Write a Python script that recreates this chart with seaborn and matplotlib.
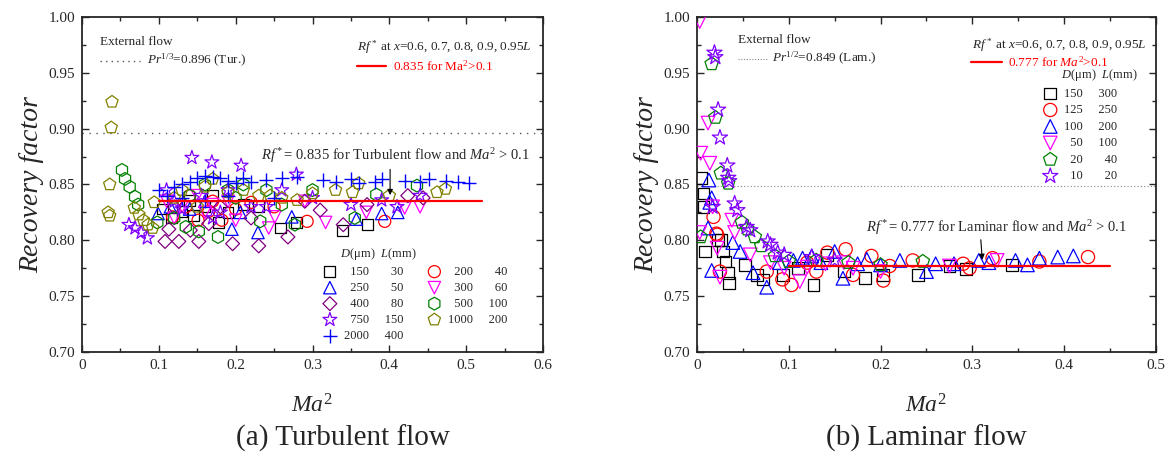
import numpy as np
import pandas as pd
import matplotlib
matplotlib.use("Agg")
import matplotlib.pyplot as plt
import seaborn as sns

sns.set_style("ticks")
plt.rcParams['font.family'] = ['Liberation Serif', 'DejaVu Serif']
plt.rcParams['mathtext.fontset'] = 'custom'
plt.rcParams['mathtext.rm'] = 'Liberation Serif'
plt.rcParams['mathtext.it'] = 'Liberation Serif:italic'

# ---------------- turbulent flow data (Ma^2, Rf) ----------------
t_sq_x = [0.105, 0.116, 0.13, 0.145, 0.16, 0.178, 0.19, 0.21, 0.258, 0.279, 0.339, 0.372,
          0.14, 0.17, 0.23]
t_sq_y = [0.828, 0.820, 0.826, 0.822, 0.830, 0.816, 0.825, 0.832, 0.811, 0.816, 0.809, 0.814,
          0.836, 0.840, 0.830]
t_ci_x = [0.118, 0.135, 0.151, 0.165, 0.182, 0.2, 0.22, 0.293, 0.394, 0.14, 0.17, 0.25]
t_ci_y = [0.821, 0.830, 0.818, 0.826, 0.818, 0.828, 0.834, 0.817, 0.817, 0.840, 0.835, 0.830]
t_tu_x = [0.099, 0.115, 0.14, 0.16, 0.195, 0.206, 0.229, 0.273, 0.357, 0.39, 0.411]
t_tu_y = [0.824, 0.830, 0.828, 0.835, 0.810, 0.825, 0.807, 0.821, 0.819, 0.824, 0.825]
t_td_x = [0.11, 0.13, 0.15, 0.17, 0.2, 0.243, 0.251, 0.317, 0.37, 0.42, 0.12, 0.16, 0.19,
          0.29, 0.44]
t_td_y = [0.835, 0.830, 0.840, 0.832, 0.818, 0.811, 0.821, 0.816, 0.825, 0.829, 0.820, 0.825,
          0.835, 0.835, 0.830]
t_di_x = [0.108, 0.113, 0.126, 0.141, 0.152, 0.165, 0.196, 0.23, 0.268, 0.31, 0.34, 0.371,
          0.424, 0.444, 0.12, 0.18, 0.22, 0.29]
t_di_y = [0.799, 0.810, 0.799, 0.809, 0.799, 0.815, 0.797, 0.795, 0.803, 0.827, 0.814, 0.832,
          0.840, 0.838, 0.830, 0.830, 0.820, 0.835]
t_hx_x = [0.052, 0.056, 0.062, 0.069, 0.073, 0.098, 0.12, 0.135, 0.152, 0.177, 0.19, 0.21,
          0.232, 0.277, 0.30, 0.355, 0.383, 0.436, 0.14, 0.16, 0.20, 0.24, 0.26]
t_hx_y = [0.863, 0.855, 0.848, 0.839, 0.832, 0.816, 0.820, 0.812, 0.808, 0.803, 0.845, 0.850,
          0.817, 0.814, 0.845, 0.820, 0.841, 0.849, 0.840, 0.850, 0.838, 0.845, 0.832]
t_st_x = [0.061, 0.069, 0.077, 0.085, 0.12, 0.143, 0.155, 0.169, 0.18, 0.207, 0.22, 0.279,
          0.30, 0.35, 0.39, 0.41, 0.44, 0.11, 0.13, 0.17, 0.19, 0.24, 0.26]
t_st_y = [0.814, 0.811, 0.807, 0.802, 0.835, 0.874, 0.840, 0.870, 0.825, 0.867, 0.830, 0.859,
          0.838, 0.832, 0.836, 0.830, 0.840, 0.845, 0.828, 0.820, 0.845, 0.830, 0.845]
t_pe_x = [0.039, 0.038, 0.036, 0.034, 0.036, 0.068, 0.074, 0.08, 0.086, 0.092, 0.094, 0.13,
          0.16, 0.19, 0.23, 0.26, 0.30, 0.352, 0.36, 0.462, 0.473, 0.12, 0.15, 0.17, 0.21,
          0.245, 0.28, 0.33, 0.40]
t_pe_y = [0.924, 0.901, 0.850, 0.825, 0.822, 0.829, 0.823, 0.818, 0.814, 0.811, 0.834, 0.845,
          0.848, 0.843, 0.840, 0.838, 0.842, 0.843, 0.851, 0.843, 0.846, 0.838, 0.830, 0.855,
          0.845, 0.840, 0.836, 0.845, 0.840]
t_pl_x = [0.10, 0.11, 0.12, 0.13, 0.14, 0.15, 0.16, 0.17, 0.18, 0.19, 0.20, 0.21, 0.22, 0.24,
          0.26, 0.28, 0.314, 0.33, 0.35, 0.36, 0.381, 0.39, 0.42, 0.44, 0.452, 0.474, 0.49,
          0.504, 0.13, 0.16, 0.19, 0.25]
t_pl_y = [0.845, 0.840, 0.848, 0.850, 0.852, 0.856, 0.858, 0.857, 0.856, 0.853, 0.851, 0.856,
          0.852, 0.854, 0.856, 0.857, 0.854, 0.852, 0.855, 0.851, 0.852, 0.855, 0.853, 0.852,
          0.855, 0.853, 0.852, 0.851, 0.838, 0.835, 0.840, 0.838]

t_D = ["150", "200", "250", "300", "400", "500", "750", "1000", "2000"]
t_L = ["30", "40", "50", "60", "80", "100", "150", "200", "400"]

# ---------------- laminar flow data ----------------
l_sq_x = [0.004, 0.007, 0.007, 0.009, 0.023, 0.026, 0.028, 0.031, 0.034, 0.035, 0.052, 0.065,
          0.072, 0.094, 0.127, 0.142, 0.183, 0.203, 0.241, 0.275, 0.293, 0.343, 0.11, 0.16]
l_sq_y = [0.856, 0.842, 0.830, 0.790, 0.800, 0.800, 0.790, 0.781, 0.771, 0.762, 0.778, 0.769,
          0.765, 0.769, 0.760, 0.787, 0.766, 0.769, 0.769, 0.777, 0.774, 0.778, 0.775, 0.772]
l_ci_x = [0.018, 0.021, 0.022, 0.025, 0.076, 0.093, 0.103, 0.13, 0.142, 0.162, 0.17, 0.19,
          0.203, 0.235, 0.29, 0.297, 0.322, 0.373, 0.426, 0.12, 0.21]
l_ci_y = [0.821, 0.806, 0.805, 0.772, 0.772, 0.765, 0.760, 0.772, 0.789, 0.792, 0.769, 0.786,
          0.764, 0.782, 0.779, 0.775, 0.784, 0.781, 0.785, 0.780, 0.777]
l_tu_x = [0.012, 0.013, 0.014, 0.016, 0.016, 0.039, 0.047, 0.061, 0.076, 0.09, 0.105, 0.115,
          0.125, 0.15, 0.159, 0.175, 0.2, 0.221, 0.25, 0.26, 0.307, 0.318, 0.347, 0.373, 0.393,
          0.41, 0.135, 0.185, 0.28, 0.36]
l_tu_y = [0.811, 0.854, 0.834, 0.838, 0.773, 0.798, 0.790, 0.771, 0.758, 0.780, 0.782, 0.784,
          0.786, 0.790, 0.766, 0.779, 0.778, 0.782, 0.772, 0.779, 0.782, 0.780, 0.782, 0.784,
          0.785, 0.786, 0.780, 0.783, 0.779, 0.778]
l_td_x = [0.003, 0.004, 0.012, 0.014, 0.017, 0.003, 0.022, 0.025, 0.038, 0.041, 0.058, 0.08,
          0.112, 0.12, 0.14, 0.17, 0.2, 0.275, 0.327, 0.095, 0.16]
l_td_y = [0.996, 0.878, 0.905, 0.869, 0.830, 0.807, 0.793, 0.767, 0.818, 0.807, 0.787, 0.780,
          0.763, 0.776, 0.779, 0.775, 0.772, 0.777, 0.782, 0.775, 0.780]
l_pe_x = [0.016, 0.02, 0.026, 0.034, 0.004, 0.049, 0.055, 0.063, 0.07, 0.085, 0.1, 0.13,
          0.165, 0.2, 0.246]
l_pe_y = [0.958, 0.910, 0.860, 0.851, 0.803, 0.816, 0.810, 0.803, 0.795, 0.786, 0.781, 0.782,
          0.780, 0.778, 0.781]
l_st_x = [0.019, 0.02, 0.023, 0.025, 0.033, 0.034, 0.035, 0.017, 0.041, 0.044, 0.054, 0.058,
          0.077, 0.08, 0.088, 0.095, 0.125, 0.15]
l_st_y = [0.968, 0.964, 0.917, 0.892, 0.867, 0.856, 0.853, 0.830, 0.833, 0.827, 0.812, 0.809,
          0.799, 0.796, 0.789, 0.787, 0.785, 0.782]

l_D = ["150", "125", "100", "50", "20", "10"]
l_L = ["300", "250", "200", "100", "40", "20"]

rf_tur = 0.835
rf_lam = 0.777
pr_tur = 0.896
pr_lam = 0.849

x_ticks_t = [0, 0.1, 0.2, 0.3, 0.4, 0.5, 0.6]
x_labels_t = ["0", "0.1", "0.2", "0.3", "0.4", "0.5", "0.6"]
x_ticks_l = [0, 0.1, 0.2, 0.3, 0.4, 0.5]
x_labels_l = ["0", "0.1", "0.2", "0.3", "0.4", "0.5"]
y_ticks = [0.70, 0.75, 0.80, 0.85, 0.90, 0.95, 1.00]
y_labels = ["0.70", "0.75", "0.80", "0.85", "0.90", "0.95", "1.00"]


def lab(d, l, wd, wl):
    # right-align digits using two spaces per missing digit
    return "  " * (wd - len(d)) + d + "     " + "  " * (wl - len(l)) + l


fig = plt.figure(figsize=(11.72, 4.57), dpi=100)
ax1 = fig.add_axes([0.0700, 0.2298, 0.3933, 0.7330])
ax2 = fig.add_axes([0.5947, 0.2298, 0.3916, 0.7330])

t_series = [
    (t_sq_x, t_sq_y, 's', 'black'),
    (t_ci_x, t_ci_y, 'o', 'red'),
    (t_tu_x, t_tu_y, '^', 'blue'),
    (t_td_x, t_td_y, 'v', 'magenta'),
    (t_di_x, t_di_y, 'D', '#800080'),
    (t_hx_x, t_hx_y, 'h', 'green'),
    (t_st_x, t_st_y, '*', '#8000ff'),
    (t_pe_x, t_pe_y, 'p', '#808000'),
    (t_pl_x, t_pl_y, '+', 'blue'),
]
l_series = [
    (l_sq_x, l_sq_y, 's', 'black'),
    (l_ci_x, l_ci_y, 'o', 'red'),
    (l_tu_x, l_tu_y, '^', 'blue'),
    (l_td_x, l_td_y, 'v', 'magenta'),
    (l_pe_x, l_pe_y, 'p', 'green'),
    (l_st_x, l_st_y, '*', '#8000ff'),
]

sizes = {'s': 60, 'o': 75, '^': 80, 'v': 80, 'D': 50, 'h': 85, '*': 110, 'p': 85, '+': 90}

for i, (xs, ys, m, c) in enumerate(t_series):
    lbl = lab(t_D[i], t_L[i], 4, 3)
    if m == '+':
        sns.scatterplot(x=xs, y=ys, ax=ax1, marker=m, color=c, s=sizes[m], linewidth=1.0,
                        label=lbl, legend=False, zorder=3)
    else:
        sns.scatterplot(x=xs, y=ys, ax=ax1, marker=m, color=c, facecolor='none', edgecolor=c,
                        s=sizes[m], linewidth=0.9, label=lbl, legend=False, zorder=3)

for i, (xs, ys, m, c) in enumerate(l_series):
    lbl = lab(l_D[i], l_L[i], 3, 3)
    sns.scatterplot(x=xs, y=ys, ax=ax2, marker=m, color=c, facecolor='none', edgecolor=c,
                    s=sizes[m] * 1.2, linewidth=0.9, label=lbl, legend=False, zorder=3)

# reference lines
ax1.axhline(pr_tur, color='#555555', ls=(0, (1, 4)), lw=1.0, zorder=1)
ax2.axhline(pr_lam, color='#888888', ls=(0, (1, 2)), lw=0.8, zorder=1)
ax1.plot([0.1, 0.52], [rf_tur, rf_tur], color='red', lw=1.6, zorder=4)
ax2.plot([0.1, 0.45], [rf_lam, rf_lam], color='red', lw=1.6, zorder=4)

# annotations
ax1.annotate("", xy=(0.401, 0.838), xytext=(0.401, 0.866),
             arrowprops=dict(arrowstyle='-|>', color='black', lw=0.8, mutation_scale=8))
ax1.text(0.583, 0.876, r"$Rf^*$= 0.835 for Turbulent flow and $Ma^2$ > 0.1",
         ha='right', va='center', fontsize=10.5)
ax2.annotate("", xy=(0.311, 0.780), xytext=(0.309, 0.803),
             arrowprops=dict(arrowstyle='-|>', color='black', lw=0.8, mutation_scale=8))
ax2.text(0.468, 0.811, r"$Rf^*$= 0.777 for Laminar flow and $Ma^2$ > 0.1",
         ha='right', va='center', fontsize=10.5)

# top-left note on external flow
ax1.text(0.04, 0.925, "External flow", transform=ax1.transAxes, fontsize=9.5, va='center')
ax1.plot([0.04, 0.125], [0.869, 0.869], transform=ax1.transAxes, color='#555555',
         ls=(0, (1, 3)), lw=1.0)
ax1.text(0.14, 0.869, r"$Pr^{1/3}$=0.896 (Tur.)", transform=ax1.transAxes, fontsize=9.5,
         va='center')
ax2.text(0.09, 0.931, "External flow", transform=ax2.transAxes, fontsize=9.5, va='center')
ax2.plot([0.09, 0.155], [0.875, 0.875], transform=ax2.transAxes, color='#888888',
         ls=(0, (1, 1.5)), lw=0.8)
ax2.text(0.163, 0.875, r"$Pr^{1/2}$=0.849 (Lam.)", transform=ax2.transAxes, fontsize=9.5,
         va='center')

# top-right note on Rf*
ax1.text(0.975, 0.91, r"$Rf^*$ at $x$=0.6, 0.7, 0.8, 0.9, 0.95$L$", transform=ax1.transAxes,
         fontsize=9.5, ha='right', va='center')
ax1.plot([0.597, 0.659], [0.854, 0.854], transform=ax1.transAxes, color='red', lw=1.6)
ax1.text(0.675, 0.854, r"0.835 for Ma$^2$>0.1", transform=ax1.transAxes, fontsize=9.5,
         color='red', va='center')
ax2.text(0.98, 0.916, r"$Rf^*$ at $x$=0.6, 0.7, 0.8, 0.9, 0.95$L$", transform=ax2.transAxes,
         fontsize=9.5, ha='right', va='center')
ax2.plot([0.598, 0.665], [0.866, 0.866], transform=ax2.transAxes, color='red', lw=1.6)
ax2.text(0.678, 0.866, r"0.777 for $Ma^2$>0.1", transform=ax2.transAxes, fontsize=9.5,
         color='red', va='center')

# legends
leg_kw = dict(frameon=False, fontsize=9, handlelength=1.2, handletextpad=0.5,
              borderaxespad=0.0, borderpad=0.0, alignment='left', title_fontsize=9)
h1, l1 = ax1.get_legend_handles_labels()
order = [0, 2, 4, 6, 8, 1, 3, 5, 7]
ax1.legend([h1[k] for k in order], [l1[k] for k in order], loc='lower right',
           bbox_to_anchor=(0.923, 0.03), ncol=2, columnspacing=1.9, labelspacing=0.32,
           title=r"      $D$(μm)  $L$(mm)", **leg_kw)
ax2.legend(loc='upper right', bbox_to_anchor=(0.96, 0.85), ncol=1, labelspacing=0.36,
           title=r"      $D$(μm)  $L$(mm)", **leg_kw)

for ax, xt, xl, xmax in [(ax1, x_ticks_t, x_labels_t, 0.6), (ax2, x_ticks_l, x_labels_l, 0.5)]:
    ax.set_xlim(0, xmax)
    ax.set_ylim(0.70, 1.00)
    ax.set_xticks(xt)
    ax.set_xticklabels(xl)
    ax.set_yticks(y_ticks)
    ax.set_yticklabels(y_labels)
    ax.set_xticks(np.arange(0.05, xmax, 0.1), minor=True)
    ax.set_yticks(np.arange(0.725, 1.0, 0.05), minor=True)
    ax.tick_params(which='both', direction='in', top=True, right=True, labelsize=11,
                   width=1.0)
    ax.tick_params(which='major', length=5, pad=5)
    ax.tick_params(which='minor', length=3)
    for sp in ax.spines.values():
        sp.set_linewidth(1.3)
    ax.set_xlabel(r"$Ma^2$", fontsize=17, labelpad=16)
    ax.set_ylabel("Recovery factor", fontsize=20, style='italic', labelpad=3)

fig.text(0.2925, 0.04, "(a) Turbulent flow", ha='center', va='center', fontsize=21)
fig.text(0.7905, 0.04, "(b) Laminar flow", ha='center', va='center', fontsize=21)

fig.savefig("out.png", dpi=100)
